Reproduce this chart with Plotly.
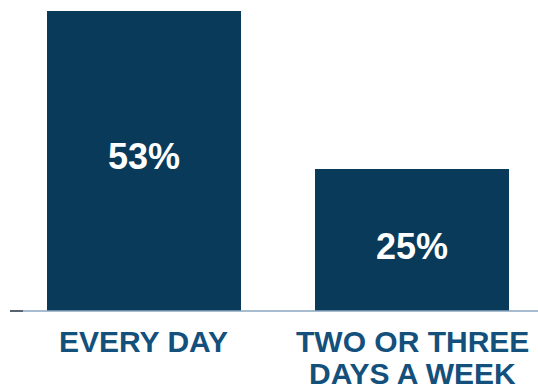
import plotly.graph_objects as go

# Share of respondents by frequency
categories = ["EVERY DAY", "TWO OR THREE\nDAYS A WEEK"]
values = [53, 25]

# Vertical placement (data units) of the percentage labels inside each bar
pct_label_y = [27.2, 11.3]

BAR_COLOR = "#0a3a5a"
LABEL_COLOR = "#13507c"
FONT = "Liberation Sans, Arial, Helvetica, sans-serif"

x_pos = list(range(len(categories)))

fig = go.Figure(
    go.Bar(
        x=x_pos,
        y=values,
        width=0.724,
        marker=dict(color=BAR_COLOR, line=dict(width=0)),
        hoverinfo="skip",
    )
)

annotations = []
# Percentage labels inside bars
for xi, v, ly in zip(x_pos, values, pct_label_y):
    annotations.append(dict(
        x=xi, y=ly, xref="x", yref="y",
        text=f"<b>{v}%</b>", showarrow=False,
        font=dict(family=FONT, size=36, color="white"),
        xanchor="center", yanchor="middle",
    ))

# Category labels below the baseline, one annotation per text line
line_gap = 32
for xi, cat in zip(x_pos, categories):
    for k, line in enumerate(cat.split("\n")):
        annotations.append(dict(
            x=xi, y=0, xref="x", yref="paper",
            text=f"<b>{line}</b>", showarrow=False,
            font=dict(family=FONT, size=30, color=LABEL_COLOR),
            xanchor="center", yanchor="middle",
            yshift=-30 - k * line_gap,
        ))

fig.update_layout(
    width=538, height=390,
    margin=dict(l=0, r=0, t=0, b=79, pad=0),
    paper_bgcolor="white", plot_bgcolor="white",
    showlegend=False,
    bargap=0,
    xaxis=dict(range=[-0.537, 1.470], visible=False, fixedrange=True),
    yaxis=dict(range=[0, 54.9], visible=False, fixedrange=True),
    annotations=annotations,
    shapes=[
        # baseline
        dict(type="line", xref="paper", yref="paper",
             x0=10 / 538, x1=1, y0=0, y1=0,
             line=dict(color="#8aa6bf", width=1.5)),
        # short dark tick at the left end of the baseline
        dict(type="line", xref="paper", yref="paper",
             x0=10 / 538, x1=23 / 538, y0=0, y1=0,
             line=dict(color="#3c4652", width=1.5)),
    ],
)

fig.write_html("out.html")
